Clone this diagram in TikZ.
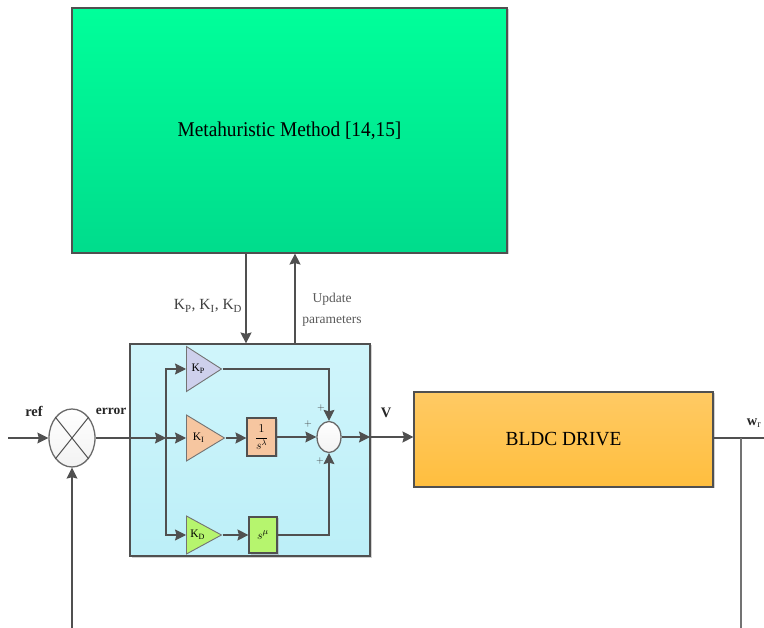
\documentclass[tikz,border=0pt]{standalone}
\usepackage{fontspec}
\setmainfont{Liberation Serif}
\usetikzlibrary{arrows.meta,shapes.geometric,shadows}
\definecolor{wirecol}{HTML}{505050}
\begin{document}
\begin{tikzpicture}[x=1pt,y=-1pt,
    wire/.style={draw=wirecol,line width=1.1pt},
    arw/.style={wire,-{Stealth[length=11pt,width=11pt,inset=1.5pt]}},
    blk/.style={rectangle,draw=wirecol,line width=1.1pt,inner sep=0pt,
      drop shadow={shadow xshift=1.5pt,shadow yshift=-1.5pt,fill=black!35,opacity=.5}},
    gain/.style={isosceles triangle,isosceles triangle stretches,shape border rotate=0,anchor=lower side,
      draw=wirecol!80,line width=.9pt,inner sep=0pt,font=\fontsize{11.5}{11.5}\selectfont},
    junc/.style={ellipse,draw=wirecol!85,line width=1.3pt,inner sep=0pt,top color=white,bottom color=black!5},
    lbl/.style={text=black!75},
    strong/.style={font=\fontsize{14.5}{14.5}\selectfont\bfseries,text=black!85}]
  \useasboundingbox (0,0) rectangle (764,628);
  % the big blocks
  \node[blk,minimum width=435pt,minimum height=245pt,top color={rgb,255:red,0;green,255;blue,154},bottom color={rgb,255:red,0;green,220;blue,140},
    font=\fontsize{21}{21}\selectfont] (meta) at (289.5,130.5) {\scalebox{.92}[1]{Metahuristic Method [14,15]}};
  \node[blk,minimum width=240pt,minimum height=212pt,top color={rgb,255:red,208;green,245;blue,251},bottom color={rgb,255:red,188;green,239;blue,248}] (pid) at (250,450) {};
  \node[blk,minimum width=299pt,minimum height=95pt,top color={rgb,255:red,255;green,202;blue,100},bottom color={rgb,255:red,255;green,190;blue,62},
    font=\fontsize{20}{20}\selectfont] (drive) at (563.5,439.5) {\scalebox{.97}[1]{BLDC DRIVE}};
  % the controller
  \node[gain,minimum width=45pt,minimum height=35pt,fill={rgb,255:red,206;green,208;blue,236}] (kp) at (186,369) {K$_{\mathrm{P}}$\hspace{8pt}};
  \node[gain,minimum width=46pt,minimum height=38pt,fill={rgb,255:red,246;green,198;blue,160}] (ki) at (186,438) {K$_{\mathrm{I}}$\hspace{10pt}};
  \node[gain,minimum width=38pt,minimum height=35pt,fill={rgb,255:red,182;green,245;blue,110}] (kd) at (186,535) {K$_{\mathrm{D}}$\hspace{7pt}};
  \node[blk,minimum width=29pt,minimum height=38pt,fill={rgb,255:red,246;green,198;blue,160}] (intg) at (261.5,437) {\fontsize{12}{12}\selectfont$\displaystyle\frac{1}{s^{\lambda}}$};
  \node[blk,minimum width=28pt,minimum height=36pt,fill={rgb,255:red,182;green,245;blue,110}] (diff) at (263,535) {\fontsize{13}{13}\selectfont$s^{\mu}$};
  \node[junc,minimum width=24pt,minimum height=31pt] (sumb) at (329,437) {};
  \node[junc,minimum width=46pt,minimum height=58pt] (sumr) at (72,438) {};
  \draw[wirecol,line width=1pt] (sumr.north west)--(sumr.south east) (sumr.north east)--(sumr.south west);
  \coordinate (fork) at (166,438);
  \coordinate (kin) at (246,300);
  \coordinate (upd) at (295,300);
  \coordinate (pout) at (370,437);
  \coordinate (tap) at (741,438);
  \coordinate (wend) at (764,438);
  \coordinate (rend) at (741,628);
  \coordinate (lend) at (72,628);
  \coordinate (rin) at (8,438);
  % the wires
  \draw[arw] (meta.south -| kin) -- (pid.north -| kin);
  \draw[arw] (pid.north -| upd) -- (meta.south -| upd);
  \draw[arw] (rin) -- (sumr.west);
  \draw[arw] (lend) -- (sumr.south);
  \draw[arw] (sumr.east) -- (fork);
  \draw[arw] (fork) -- (ki.lower side |- fork);
  \draw[arw] (fork) |- (kp.lower side);
  \draw[arw] (fork) |- (kd.lower side);
  \draw[arw] (ki.apex) -- (intg.west |- ki.apex);
  \draw[arw] (kd.apex) -- (diff.west |- kd.apex);
  \draw[arw] (kp.apex) -| (sumb.north);
  \draw[arw] (intg.east) -- (sumb.west);
  \draw[arw] (diff.east) -| (sumb.south);
  \draw[arw] (sumb.east) -- (pout);
  \draw[arw] (pout) -- (drive.west |- pout);
  \draw[wire] (drive.east |- tap) -- (wend);
  \draw[wire,draw=black!55] (tap) -- (rend);
  % the labels
  \node[lbl,font=\fontsize{15.5}{15.5}\selectfont] (gains) at (208,306) {K$_{\mathrm{P}}$, K$_{\mathrm{I}}$, K$_{\mathrm{D}}$};
  \node[lbl,align=center,font=\fontsize{13.5}{21.5}\selectfont,text=black!65] (updlbl) at (332,310) {Update\\parameters};
  \node[strong] (reflbl) at (34,411) {ref};
  \node[strong,font=\fontsize{13.5}{13.5}\selectfont\bfseries] (errlbl) at (111,411) {error};
  \node[strong] (vlbl) at (386,413) {V};
  \node[strong] (wlbl) at (754,423) {w$_{\mathrm{r}}$};
  \node[lbl,font=\fontsize{10}{10}\selectfont] (pa) at (321,408) {$+$};
  \node[lbl,font=\fontsize{10}{10}\selectfont] (pb) at (308,424) {$+$};
  \node[lbl,font=\fontsize{10}{10}\selectfont] (pc) at (320,461) {$+$};
\end{tikzpicture}
\end{document}
